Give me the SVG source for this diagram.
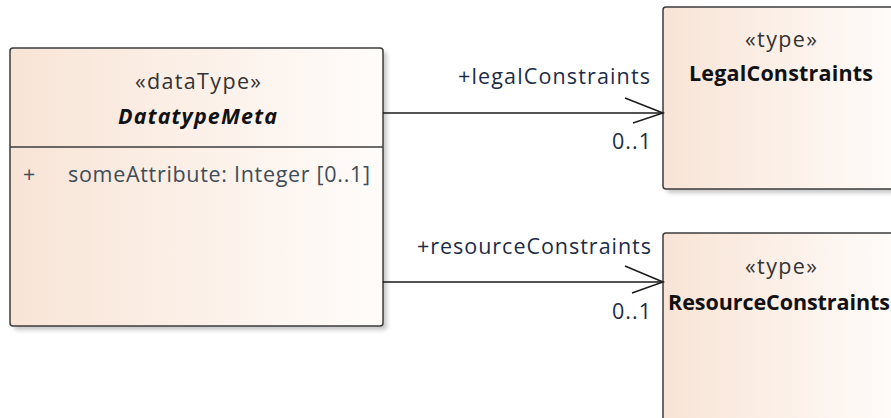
<svg xmlns="http://www.w3.org/2000/svg" width="891" height="418" viewBox="0 0 891 418">
  <defs>
    <linearGradient id="fillGrad" x1="0" y1="0" x2="1" y2="0">
      <stop offset="0" stop-color="#F8E4D6"/>
      <stop offset="1" stop-color="#FFFCFA"/>
    </linearGradient>
    <filter id="shadow" x="-5%" y="-5%" width="115%" height="115%">
      <feGaussianBlur stdDeviation="2"/>
    </filter>
  </defs>
  <style>
    .box { fill: url(#fillGrad); stroke: #3c3c3c; stroke-width: 1.5; }
    .shd { fill: #c8c8c8; filter: url(#shadow); }
    text { font-family: "Open Sans", "Liberation Sans", sans-serif; font-size: 21.5px; }
    .stereo { fill: #333333; text-anchor: middle; }
    .name { fill: #111111; font-weight: bold; text-anchor: middle; }
    .abstract { font-style: italic; }
    .attr { fill: #3e4d58; }
    .role { fill: #1c2c48; text-anchor: end; }
    .conn { stroke: #1a1a1a; stroke-width: 1.5; fill: none; }
  </style>
  <rect width="891" height="418" fill="#ffffff"/>

  <!-- data type class with one attribute -->
  <g id="DatatypeMeta">
    <rect class="shd" x="14" y="52" width="373" height="278" rx="3"/>
    <rect class="box" x="10" y="48" width="373" height="278" rx="3"/>
    <line x1="10" y1="147" x2="383" y2="147" stroke="#3c3c3c" stroke-width="1.5"/>
    <text class="stereo" x="198" y="89" textLength="126" lengthAdjust="spacing">«dataType»</text>
    <text class="name abstract" x="197.5" y="124" textLength="159" lengthAdjust="spacing">DatatypeMeta</text>
    <text class="attr" x="23" y="182">+</text>
    <text class="attr" x="68" y="182" textLength="302" lengthAdjust="spacing">someAttribute: Integer [0..1]</text>
  </g>

  <!-- target type: legal constraints -->
  <g id="LegalConstraints">
    <rect class="shd" x="667" y="11" width="240" height="182" rx="3"/>
    <rect class="box" x="663" y="7" width="240" height="182" rx="3"/>
    <text class="stereo" x="781" y="47" textLength="72" lengthAdjust="spacing">«type»</text>
    <text class="name" x="781" y="81" textLength="184" lengthAdjust="spacing">LegalConstraints</text>
  </g>

  <!-- target type: resource constraints -->
  <g id="ResourceConstraints">
    <rect class="shd" x="667" y="237" width="240" height="190" rx="3"/>
    <rect class="box" x="663" y="233" width="240" height="190" rx="3"/>
    <text class="stereo" x="781" y="274" textLength="72" lengthAdjust="spacing">«type»</text>
    <text class="name" x="779" y="310" textLength="222" lengthAdjust="spacing">ResourceConstraints</text>
  </g>

  <!-- directed associations with open arrowheads -->
  <g id="connectors">
    <line class="conn" x1="383" y1="113" x2="663" y2="113"/>
    <polyline class="conn" points="625,98 663,113 633,123"/>
    <text class="role" x="650" y="84" textLength="192" lengthAdjust="spacing">+legalConstraints</text>
    <text class="role" x="651" y="149" textLength="39" lengthAdjust="spacing">0..1</text>

    <line class="conn" x1="383" y1="282" x2="663" y2="282"/>
    <polyline class="conn" points="625,266 663,282 632,293"/>
    <text class="role" x="651" y="254" textLength="234" lengthAdjust="spacing">+resourceConstraints</text>
    <text class="role" x="651" y="319" textLength="39" lengthAdjust="spacing">0..1</text>
  </g>
</svg>
